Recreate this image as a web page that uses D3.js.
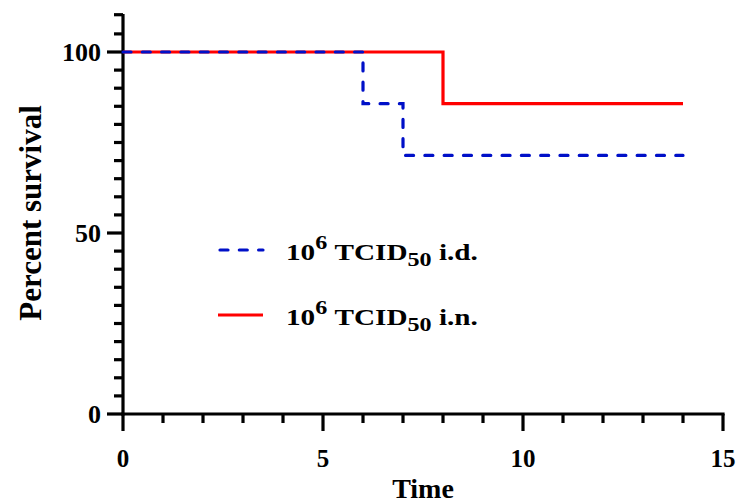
<!DOCTYPE html>
<html>
<head>
<meta charset="utf-8">
<script src="https://cdn.jsdelivr.net/npm/d3@7"></script>
<style>
  html, body { margin: 0; padding: 0; background: #fff; }
  svg { display: block; }
  text { font-family: "Liberation Serif", "DejaVu Serif", serif; font-weight: bold; fill: #000; }
</style>
</head>
<body>
<div id="chart"></div>
<script>
// ---- data ----
const idTimes  = [0, 6, 6, 7, 7, 14];
const idValues = [100, 100, 85.714, 85.714, 71.429, 71.429];
const inTimes  = [0, 8, 8, 14];
const inValues = [100, 100, 85.714, 85.714];
const seriesNames = ["i.d.", "i.n."];
const xTickLabels = [0, 5, 10, 15];
const yTickLabels = [0, 50, 100];

const W = 737, H = 503;
const svg = d3.select("#chart").append("svg").attr("width", W).attr("height", H);

const x = d3.scaleLinear().domain([0, 15]).range([123, 723]);
const y = d3.scaleLinear().domain([0, 100]).range([414, 52]);
const yTop = 110.5;

const axisColor = "#000";
const axW = 3.2;
const blue = "#0010c8", red = "#ff0000";
const dash = "8,11.3";

// y axis
const yAxisG = svg.append("g");
yAxisG.append("line").attr("x1", x(0)).attr("x2", x(0))
  .attr("y1", y(yTop)).attr("y2", y(0) + axW/2)
  .attr("stroke", axisColor).attr("stroke-width", axW);
const yMinor = d3.range(0, 111, 5);
yAxisG.selectAll("line.tick").data(yMinor).enter().append("line")
  .attr("x1", d => yTickLabels.includes(d) ? x(0) - 16 : x(0) - 9)
  .attr("x2", x(0))
  .attr("y1", d => d === 110 ? y(110.3) : y(d))
  .attr("y2", d => d === 110 ? y(110.3) : y(d))
  .attr("stroke", axisColor).attr("stroke-width", axW);
yAxisG.selectAll("text").data(yTickLabels).enter().append("text")
  .attr("x", x(0) - 22).attr("y", d => y(d) + 8.5)
  .attr("text-anchor", "end").attr("font-size", 26)
  .text(d => d);

// x axis
const xAxisG = svg.append("g");
xAxisG.append("line").attr("x1", x(0) - axW/2).attr("x2", x(15) + axW/2)
  .attr("y1", y(0)).attr("y2", y(0))
  .attr("stroke", axisColor).attr("stroke-width", axW);
const xMinor = d3.range(0, 16, 1);
xAxisG.selectAll("line.tick").data(xMinor).enter().append("line")
  .attr("x1", d => x(d)).attr("x2", d => x(d))
  .attr("y1", y(0))
  .attr("y2", d => xTickLabels.includes(d) ? y(0) + 17 : y(0) + 9)
  .attr("stroke", axisColor).attr("stroke-width", axW);
xAxisG.selectAll("text").data(xTickLabels).enter().append("text")
  .attr("x", d => x(d)).attr("y", 467)
  .attr("text-anchor", "middle").attr("font-size", 25)
  .text(d => d);

// axis titles
svg.append("text").attr("x", x(7.5)).attr("y", 498)
  .attr("text-anchor", "middle").attr("font-size", 28).text("Time");
svg.append("text")
  .attr("transform", `translate(41, ${213}) rotate(-90)`)
  .attr("text-anchor", "middle").attr("font-size", 31).text("Percent survival");

// series
const line = d3.line().x(d => x(d[0])).y(d => y(d[1]));
const inData = inTimes.map((t, i) => [t, inValues[i]]);
const idData = idTimes.map((t, i) => [t, idValues[i]]);

svg.append("path").datum(inData).attr("d", line)
  .attr("fill", "none").attr("stroke", red).attr("stroke-width", 3.2);
svg.append("path").datum(idData).attr("d", line)
  .attr("fill", "none").attr("stroke", blue).attr("stroke-width", 3.2)
  .attr("stroke-dasharray", dash).attr("stroke-linecap", "round");

// legend
const legend = [
  { name: seriesNames[0], color: blue, dash: dash, y: 250 },
  { name: seriesNames[1], color: red, dash: null, y: 315 }
];
legend.forEach(l => {
  const ln = svg.append("line").attr("x1", l.dash ? 220 : 218).attr("x2", 263)
    .attr("y1", l.y).attr("y2", l.y)
    .attr("stroke", l.color).attr("stroke-width", 3.2);
  if (l.dash) ln.attr("stroke-dasharray", l.dash).attr("stroke-linecap", "round");
  const g = svg.append("g").attr("transform", `translate(286, ${l.y + 9.5}) scale(1.27, 1)`);
  const t = g.append("text").attr("x", 0).attr("y", 0).attr("font-size", 23);
  t.append("tspan").text("10");
  t.append("tspan").attr("dy", -11).attr("font-size", 19).text("6");
  t.append("tspan").attr("dy", 11).text("\u00A0TCID");
  t.append("tspan").attr("dy", 6).attr("font-size", 19).text("50");
  t.append("tspan").attr("dy", -6).text("\u00A0" + l.name);
});
</script>
</body>
</html>
